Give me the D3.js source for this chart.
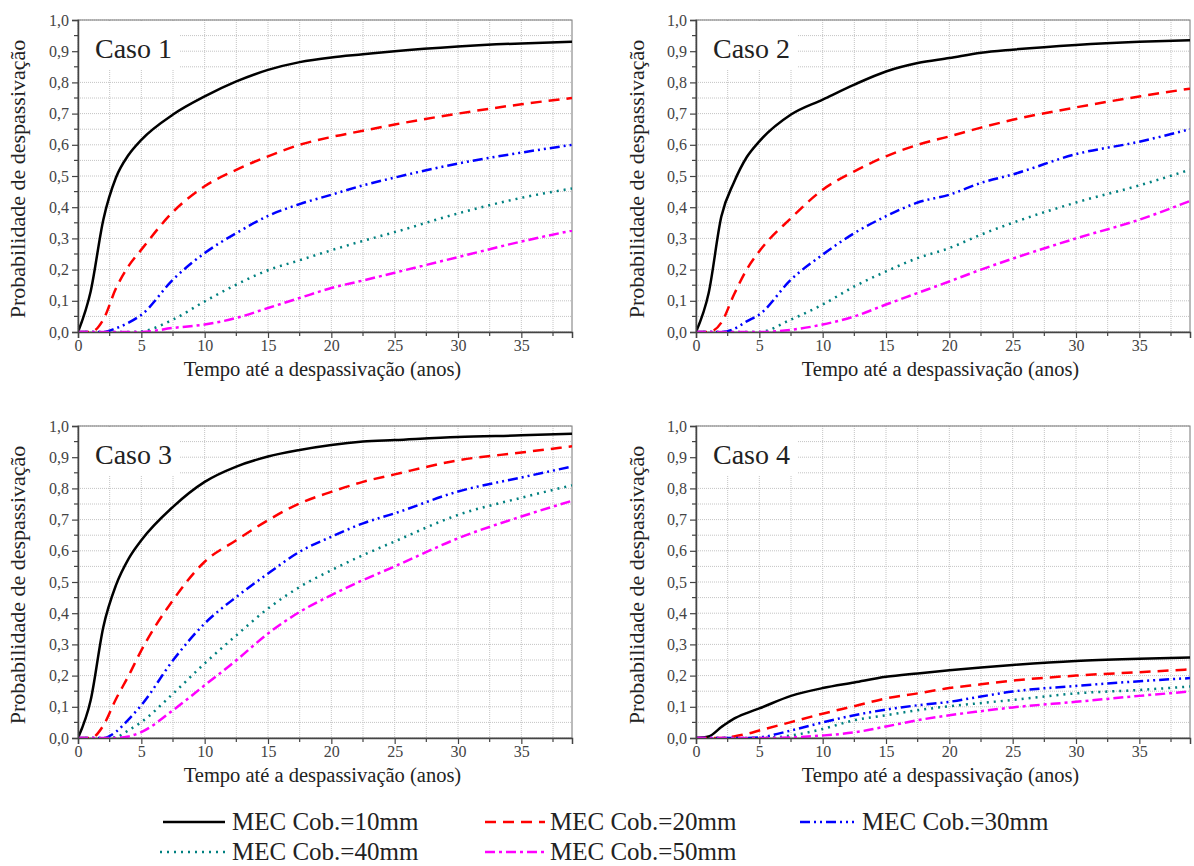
<!DOCTYPE html>
<html><head><meta charset="utf-8">
<script src="https://cdn.jsdelivr.net/npm/d3@7"></script>
<style>
html,body{margin:0;padding:0;background:#fff;}
svg{display:block;}
text{font-family:"Liberation Serif","Times New Roman",serif;}
</style></head>
<body>
<svg id="chart" width="1194" height="866"></svg>
<script>
// ---------- DATA ----------
const years = [0, 1, 2, 3, 4, 5, 7.5, 10, 12.5, 15, 17.5, 20, 22.5, 25, 30, 35, 39];
const xTicks = [0, 5, 10, 15, 20, 25, 30, 35];
const yTicks = [0, 0.1, 0.2, 0.3, 0.4, 0.5, 0.6, 0.7, 0.8, 0.9, 1.0];
const yTickLabels = ["0,0","0,1","0,2","0,3","0,4","0,5","0,6","0,7","0,8","0,9","1,0"];
const caseNames = ["Caso 1", "Caso 2", "Caso 3", "Caso 4"];
const seriesNames = ["MEC Cob.=10mm", "MEC Cob.=20mm", "MEC Cob.=30mm", "MEC Cob.=40mm", "MEC Cob.=50mm"];
const xTitle = "Tempo até a despassivação (anos)";
const yTitle = "Probabilidade de despassivação";

// Caso 1
const c1_10 = [0, 0.13, 0.36, 0.495, 0.568, 0.616, 0.697, 0.755, 0.803, 0.84, 0.865, 0.88, 0.89, 0.90, 0.915, 0.925, 0.93];
const c1_20 = [0, 0, 0.04, 0.14, 0.212, 0.264, 0.385, 0.467, 0.52, 0.563, 0.60, 0.625, 0.645, 0.665, 0.70, 0.73, 0.75];
const c1_30 = [0, 0, 0, 0.012, 0.03, 0.055, 0.168, 0.253, 0.317, 0.372, 0.41, 0.44, 0.47, 0.495, 0.54, 0.575, 0.60];
const c1_40 = [0, 0, 0, 0, 0, 0.002, 0.04, 0.098, 0.152, 0.198, 0.23, 0.262, 0.292, 0.32, 0.38, 0.43, 0.46];
const c1_50 = [0, 0, 0, 0, 0, 0, 0.013, 0.024, 0.045, 0.077, 0.109, 0.141, 0.165, 0.19, 0.24, 0.29, 0.325];
// Caso 2
const c2_10 = [0, 0.125, 0.37, 0.48, 0.56, 0.611, 0.697, 0.745, 0.793, 0.835, 0.862, 0.878, 0.895, 0.905, 0.92, 0.93, 0.935];
const c2_20 = [0, 0, 0.03, 0.12, 0.2, 0.259, 0.365, 0.456, 0.515, 0.563, 0.60, 0.627, 0.655, 0.68, 0.72, 0.755, 0.78];
const c2_30 = [0, 0, 0, 0.01, 0.034, 0.056, 0.168, 0.248, 0.317, 0.371, 0.415, 0.44, 0.478, 0.505, 0.57, 0.61, 0.65];
const c2_40 = [0, 0, 0, 0, 0, 0, 0.04, 0.088, 0.146, 0.194, 0.237, 0.269, 0.312, 0.35, 0.415, 0.47, 0.52];
const c2_50 = [0, 0, 0, 0, 0, 0, 0.007, 0.024, 0.05, 0.088, 0.125, 0.162, 0.20, 0.235, 0.30, 0.36, 0.42];
// Caso 3
const c3_10 = [0, 0.121, 0.356, 0.49, 0.575, 0.634, 0.741, 0.821, 0.87, 0.902, 0.923, 0.939, 0.95, 0.955, 0.965, 0.97, 0.975];
const c3_20 = [0, 0, 0.04, 0.125, 0.2, 0.281, 0.442, 0.565, 0.634, 0.698, 0.752, 0.789, 0.821, 0.845, 0.89, 0.915, 0.935];
const c3_30 = [0, 0, 0, 0.02, 0.06, 0.105, 0.249, 0.367, 0.452, 0.527, 0.597, 0.645, 0.688, 0.72, 0.79, 0.835, 0.87];
const c3_40 = [0, 0, 0, 0.003, 0.025, 0.051, 0.142, 0.239, 0.329, 0.415, 0.484, 0.538, 0.586, 0.63, 0.715, 0.77, 0.81];
const c3_50 = [0, 0, 0, 0, 0.005, 0.019, 0.089, 0.169, 0.249, 0.335, 0.404, 0.458, 0.506, 0.55, 0.64, 0.71, 0.76];
// Caso 4
const c4_10 = [0, 0.005, 0.035, 0.062, 0.08, 0.095, 0.135, 0.16, 0.178, 0.196, 0.207, 0.217, 0.226, 0.234, 0.247, 0.254, 0.258];
const c4_20 = [0, 0, 0, 0.005, 0.013, 0.024, 0.051, 0.078, 0.102, 0.127, 0.143, 0.16, 0.172, 0.184, 0.20, 0.211, 0.22];
const c4_30 = [0, 0, 0, 0, 0, 0.002, 0.024, 0.05, 0.073, 0.091, 0.105, 0.116, 0.133, 0.149, 0.167, 0.182, 0.192];
const c4_40 = [0, 0, 0, 0, 0, 0, 0.008, 0.029, 0.057, 0.073, 0.089, 0.102, 0.112, 0.122, 0.143, 0.154, 0.165];
const c4_50 = [0, 0, 0, 0, 0, 0, 0.002, 0.008, 0.018, 0.037, 0.057, 0.073, 0.086, 0.098, 0.116, 0.135, 0.149];

const caseSeries = [
  [c1_10, c1_20, c1_30, c1_40, c1_50],
  [c2_10, c2_20, c2_30, c2_40, c2_50],
  [c3_10, c3_20, c3_30, c3_40, c3_50],
  [c4_10, c4_20, c4_30, c4_40, c4_50]
];

// ---------- STYLE ----------
const colors = ["#000000", "#ff0000", "#0000ff", "#008080", "#ff00ff"];
const dashes = [null, "11,7", "10,4,2,4,2,4", "2,5", "10,4,3,4"];
const widths = [2.5, 2.5, 2.5, 2.5, 2.5];

const panels = [
  {left: 78, top: 20, width: 494, height: 312, labelX: 18},
  {left: 696, top: 20, width: 494, height: 312, labelX: 637},
  {left: 78, top: 426, width: 494, height: 312, labelX: 18},
  {left: 696, top: 426, width: 494, height: 312, labelX: 637}
];

const svg = d3.select("#chart");

panels.forEach((p, i) => {
  const g = svg.append("g").attr("transform", `translate(${p.left},${p.top})`);
  const x = d3.scaleLinear().domain([0, 39]).range([0, p.width]);
  const y = d3.scaleLinear().domain([0, 1]).range([p.height, 0]);

  // grid
  const gx = d3.range(0, 39.01, 2.5);
  const gy = d3.range(0, 1.001, 0.05);
  g.append("g").selectAll("line").data(gx).join("line")
    .attr("x1", d => x(d)).attr("x2", d => x(d)).attr("y1", 0).attr("y2", p.height)
    .attr("stroke", "#c4c4c4").attr("stroke-width", 1).attr("stroke-dasharray", "1,1");
  g.append("g").selectAll("line").data(gy).join("line")
    .attr("x1", 0).attr("x2", p.width).attr("y1", d => y(d)).attr("y2", d => y(d))
    .attr("stroke", "#c4c4c4").attr("stroke-width", 1).attr("stroke-dasharray", "1,1");

  // white box behind label
  g.append("rect").attr("x", 1).attr("y", 1).attr("width", 101).attr("height", 49).attr("fill", "#fff");
  g.append("text").attr("x", 17).attr("y", 38).attr("font-size", 28).attr("fill", "#222")
    .text(caseNames[i]);

  // border
  g.append("rect").attr("x", 0).attr("y", 0).attr("width", p.width).attr("height", p.height)
    .attr("fill", "none").attr("stroke", "#777").attr("stroke-width", 1);

  // curves
  const line = d3.line().x((d, k) => x(years[k])).y(d => y(d)).curve(d3.curveMonotoneX);
  const clipId = "clip" + i;
  g.append("clipPath").attr("id", clipId).append("rect")
    .attr("x", 0).attr("y", -5).attr("width", p.width).attr("height", p.height + 6);
  const cg = g.append("g").attr("clip-path", `url(#${clipId})`);
  caseSeries[i].forEach((s, k) => {
    cg.append("path").datum(s).attr("d", line)
      .attr("fill", "none").attr("stroke", colors[k]).attr("stroke-width", widths[k])
      .attr("stroke-dasharray", dashes[k]).attr("stroke-linecap", "butt").attr("stroke-linejoin", "round");
  });

  // axes
  const yAxis = d3.axisLeft(y).tickValues(yTicks).tickSize(6).tickPadding(3)
    .tickFormat((d, k) => yTickLabels[k]);
  const ya = g.append("g").call(yAxis);
  ya.select(".domain").attr("stroke", "#444").attr("stroke-width", 1.5);
  ya.selectAll(".tick line").attr("stroke", "#444").attr("stroke-width", 1.2);
  ya.selectAll(".tick text").attr("font-size", 16).attr("fill", "#444")
    .attr("font-family", "Liberation Serif");
  g.append("g").selectAll("line").data(d3.range(0.05, 1, 0.1)).join("line")
    .attr("x1", -4).attr("x2", 0).attr("y1", d => y(d)).attr("y2", d => y(d))
    .attr("stroke", "#444").attr("stroke-width", 1.2);

  const xAxis = d3.axisBottom(x).tickValues(xTicks).tickSize(6).tickPadding(2)
    .tickFormat(d => String(d));
  const xa = g.append("g").attr("transform", `translate(0,${p.height})`).call(xAxis);
  xa.select(".domain").attr("stroke", "#444").attr("stroke-width", 1.5);
  xa.selectAll(".tick line").attr("stroke", "#444").attr("stroke-width", 1.2);
  xa.selectAll(".tick text").attr("font-size", 16).attr("fill", "#444")
    .attr("font-family", "Liberation Serif");
  g.append("g").attr("transform", `translate(0,${p.height})`).selectAll("line")
    .data(d3.range(2.5, 39, 5)).join("line")
    .attr("x1", d => x(d)).attr("x2", d => x(d)).attr("y1", 0).attr("y2", 4)
    .attr("stroke", "#444").attr("stroke-width", 1.2);

  // axis titles
  g.append("text").attr("x", x(19.3)).attr("y", p.height + 44).attr("text-anchor", "middle")
    .attr("font-size", 20.5).attr("fill", "#222").text(xTitle);
  g.append("text").attr("transform", `translate(${p.labelX - p.left + 7},${p.height / 2 + 3}) rotate(-90)`)
    .attr("text-anchor", "middle").attr("font-size", 22).attr("fill", "#222").text(yTitle);
});

// ---------- LEGEND ----------
const legendPos = [
  {x1: 163, x2: 225, y: 822, tx: 232},
  {x1: 485, x2: 545, y: 822, tx: 550},
  {x1: 800, x2: 854, y: 822, tx: 862},
  {x1: 160, x2: 225, y: 852, tx: 232},
  {x1: 485, x2: 545, y: 852, tx: 550}
];
const lg = svg.append("g");
seriesNames.forEach((name, k) => {
  const lp = legendPos[k];
  lg.append("line").attr("x1", lp.x1).attr("x2", lp.x2).attr("y1", lp.y).attr("y2", lp.y)
    .attr("stroke", colors[k]).attr("stroke-width", 2.5).attr("stroke-dasharray", dashes[k]);
  lg.append("text").attr("x", lp.tx).attr("y", lp.y + 8).attr("font-size", 25).attr("fill", "#222")
    .text(name);
});
</script>
</body></html>
